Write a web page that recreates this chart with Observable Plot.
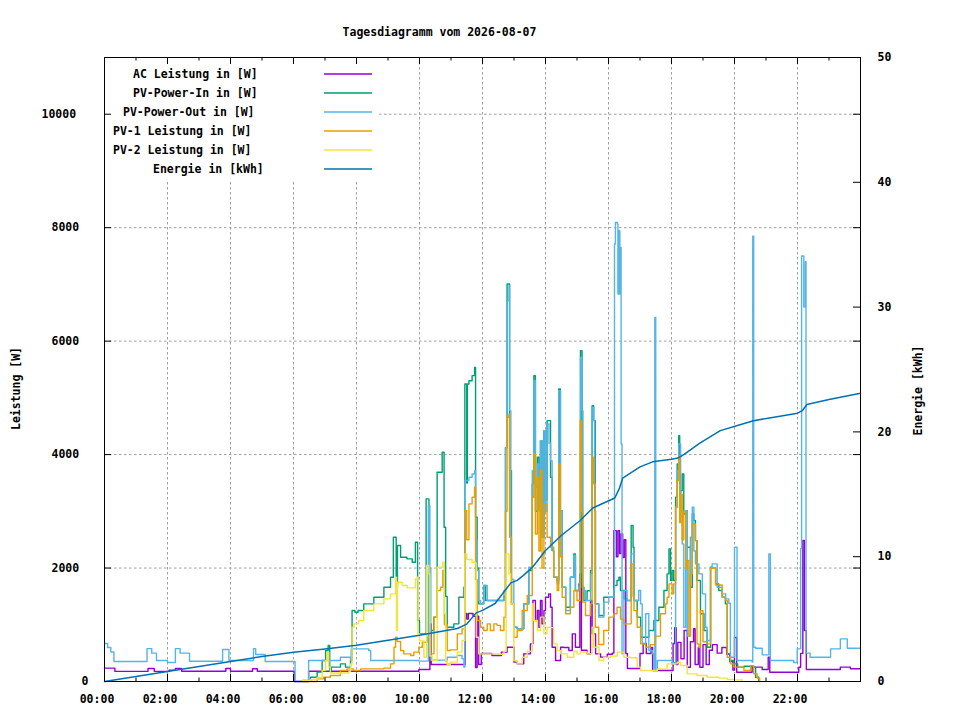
<!DOCTYPE html>
<html><head><meta charset="utf-8">
<script src="https://cdn.jsdelivr.net/npm/d3@7"></script>
<script src="https://cdn.jsdelivr.net/npm/@observablehq/plot@0.6"></script>
<style>body{margin:0;background:#fff}svg{display:block}</style>
</head><body><div id="chart"></div>
<script>
// ---- data: [hour, value] ----
const acLeistung = [[0,235],[0.33,178],[1.38,228],[1.58,178],[2.05,200],[2.25,230],[2.45,180],[3.85,230],[4.0,180],[4.7,225],[4.85,180],[6.03,0],[6.48,182],[9.98,211],[10.33,1016],[10.37,300],[11.45,1200],[11.5,1100],[11.55,1200],[11.7,1150],[11.78,247],[11.83,1150],[11.88,300],[11.96,493],[12.3,458],[12.6,517],[12.78,605],[13.0,341],[13.1,311],[13.31,487],[13.52,664],[13.6,1427],[13.68,1075],[13.74,1251],[13.79,957],[13.84,1427],[13.89,1016],[13.95,1250],[14.0,1486],[14.1,1545],[14.16,1310],[14.21,605],[14.32,370],[14.48,605],[14.58,600],[14.74,546],[14.85,840],[14.95,605],[15.09,1897],[15.14,550],[15.32,487],[15.43,1427],[15.48,840],[15.59,487],[15.75,429],[15.96,480],[16.12,500],[16.17,2660],[16.25,2200],[16.3,2660],[16.35,2255],[16.4,2600],[16.45,2185],[16.5,2500],[16.55,493],[16.6,229],[17.0,493],[17.1,670],[17.2,493],[17.35,600],[17.4,194],[18.05,670],[18.1,950],[18.15,300],[18.2,690],[18.3,400],[18.4,900],[18.5,250],[18.6,700],[18.7,930],[18.75,300],[18.85,600],[18.9,250],[19.0,650],[19.1,300],[19.2,550],[19.3,650],[19.45,500],[19.6,600],[19.75,480],[19.85,350],[19.95,200],[20.0,775],[20.07,164],[20.56,253],[20.88,211],[21.07,428],[21.12,164],[22.04,250],[22.1,495],[22.17,2485],[22.22,900],[22.28,211],[23.36,253],[23.68,226],[24,226]];

const pvPowerIn = [[6.28,18],[6.54,76],[6.75,165],[6.91,370],[7.02,546],[7.1,634],[7.15,194],[7.2,253],[7.49,311],[7.65,253],[7.81,370],[7.86,1251],[7.95,1222],[8.05,1251],[8.23,1369],[8.55,1486],[8.87,1662],[9.08,1838],[9.17,2543],[9.26,1662],[9.3,2397],[9.4,2191],[9.6,2162],[9.77,2103],[9.87,2455],[9.94,1075],[10.0,840],[10.21,3219],[10.3,899],[10.45,1134],[10.56,3688],[10.72,4040],[10.78,2719],[10.83,1500],[10.88,957],[11.09,1016],[11.25,1486],[11.41,1662],[11.44,5245],[11.5,3500],[11.52,5245],[11.57,5303],[11.67,5392],[11.75,5538],[11.78,2895],[11.83,2000],[11.88,1369],[12.04,1692],[12.1,1427],[12.68,1500],[12.73,4123],[12.78,7007],[12.86,3718],[12.92,1369],[12.995,957],[13.1,928],[13.31,1369],[13.47,1956],[13.58,3483],[13.63,5392],[13.68,3000],[13.74,3953],[13.79,3013],[13.84,4246],[13.89,2543],[13.95,4423],[14.0,3200],[14.05,4599],[14.16,3600],[14.21,2308],[14.26,1838],[14.37,1780],[14.42,5157],[14.47,3013],[14.53,1662],[14.64,1310],[14.79,1838],[14.9,2250],[14.95,1604],[15.06,1721],[15.11,5832],[15.16,1662],[15.22,1427],[15.32,1600],[15.43,1956],[15.48,4863],[15.53,4599],[15.58,1369],[15.69,1163],[15.85,1486],[16.01,1486],[16.17,1692],[16.27,1780],[16.33,1838],[16.38,1604],[16.49,1457],[16.59,1427],[16.72,2749],[16.78,2367],[16.81,1427],[16.91,1134],[17.02,781],[17.12,781],[17.28,899],[17.44,1075],[17.6,1310],[17.76,1604],[17.86,1897],[17.92,2338],[17.97,1780],[18.02,1956],[18.07,1780],[18.13,3248],[18.18,3835],[18.23,4335],[18.26,3000],[18.29,3365],[18.34,3659],[18.39,2954],[18.45,3013],[18.5,2367],[18.6,1662],[18.66,2954],[18.71,2837],[18.76,2484],[18.81,1780],[18.92,1193],[19.03,899],[19.13,605],[19.24,2015],[19.29,1997],[19.4,1721],[19.5,1604],[19.61,1486],[19.71,1369],[19.77,487],[19.87,370],[19.98,311],[20.1,253],[20.3,270],[20.56,253],[20.67,76],[20.77,0]];

const pvPowerOut = [[0,670],[0.1,600],[0.2,520],[0.3,352],[1.3,352],[1.35,580],[1.5,500],[1.65,370],[2.0,335],[2.25,580],[2.4,500],[2.7,357],[3.75,564],[3.95,370],[4.73,580],[4.8,475],[5.1,352],[6.05,0],[6.48,370],[7.49,428],[7.81,380],[7.83,575],[8.39,546],[8.45,370],[9.98,360],[10.24,360],[10.28,3100],[10.33,2000],[10.36,376],[10.83,360],[10.88,428],[11.2,458],[11.35,399],[11.41,253],[11.44,3542],[11.57,3600],[11.67,3659],[11.75,3718],[11.78,2500],[11.83,1956],[11.88,1427],[11.94,1369],[12.04,1692],[12.15,1427],[12.68,1604],[12.73,4123],[12.78,6713],[12.84,6978],[12.86,4775],[12.9,1800],[12.995,957],[13.1,928],[13.31,1369],[13.47,2015],[13.58,3718],[13.63,5303],[13.68,3424],[13.74,3835],[13.79,3013],[13.84,4246],[13.89,2543],[13.95,4423],[14.0,3000],[14.05,4540],[14.11,4200],[14.16,3894],[14.21,2308],[14.26,1838],[14.37,1721],[14.42,5127],[14.48,3013],[14.53,1662],[14.64,1251],[14.79,1838],[14.9,2220],[14.95,1600],[15.06,1662],[15.11,5714],[15.15,4775],[15.19,1604],[15.27,1427],[15.43,1897],[15.48,4833],[15.53,4599],[15.56,3000],[15.59,1369],[15.69,1134],[15.85,1400],[16.01,1486],[16.17,1604],[16.19,7712],[16.22,8093],[16.28,8064],[16.3,6831],[16.33,7947],[16.36,6831],[16.38,7653],[16.4,4188],[16.43,487],[16.49,1604],[16.59,1427],[16.72,2250],[16.81,1427],[16.96,1604],[17.02,1369],[17.07,664],[17.18,1193],[17.28,546],[17.39,487],[17.44,194],[17.47,6419],[17.5,194],[17.55,370],[18.02,330],[18.1,311],[18.13,3072],[18.18,3718],[18.23,4188],[18.29,3000],[18.34,2426],[18.39,957],[18.45,3013],[18.5,800],[18.6,2543],[18.66,3072],[18.71,2300],[18.76,2073],[18.87,1897],[18.98,1545],[19.08,957],[19.13,722],[19.24,2015],[19.29,2073],[19.45,1662],[19.61,1545],[19.72,1457],[19.82,1380],[19.87,428],[19.98,428],[20.0,2367],[20.08,370],[20.56,345],[20.58,7850],[20.61,605],[20.67,587],[20.88,470],[21.09,2250],[21.14,370],[21.88,335],[21.99,576],[22.1,2343],[22.13,7500],[22.2,6600],[22.25,7400],[22.27,500],[22.4,428],[23.05,576],[23.36,752],[23.58,587],[24,587]];

const pv1Leistung = [[6.28,0],[6.75,47],[6.96,76],[7.17,106],[7.49,194],[7.7,223],[7.9,194],[8.13,223],[8.55,223],[8.87,235],[9.08,311],[9.19,605],[9.24,781],[9.29,705],[9.4,546],[9.5,487],[9.72,458],[9.82,517],[9.98,605],[10.09,693],[10.24,781],[10.35,487],[10.46,1134],[10.56,1604],[10.67,1662],[10.74,1956],[10.79,1000],[10.88,546],[10.98,558],[11.2,840],[11.35,928],[11.44,3013],[11.5,2500],[11.57,3131],[11.67,3248],[11.75,3424],[11.78,1800],[11.83,1075],[11.94,957],[12.04,899],[12.15,1016],[12.25,899],[12.36,1016],[12.46,990],[12.57,899],[12.68,1134],[12.73,3000],[12.78,4657],[12.84,4716],[12.86,2543],[12.92,1369],[12.995,781],[13.1,899],[13.26,1251],[13.42,1515],[13.58,3248],[13.63,4012],[13.68,2600],[13.74,3600],[13.79,2300],[13.84,3718],[13.89,2000],[13.95,3131],[14.05,2543],[14.16,2367],[14.26,1838],[14.37,1604],[14.42,3835],[14.47,2200],[14.53,1486],[14.64,1193],[14.79,1310],[14.9,1604],[15.0,1427],[15.1,4599],[15.14,3000],[15.18,1400],[15.27,1163],[15.43,1369],[15.48,3953],[15.53,3483],[15.58,957],[15.69,652],[15.85,899],[16.01,1134],[16.17,1193],[16.27,1310],[16.33,1310],[16.38,1100],[16.49,1016],[16.59,1016],[16.72,2073],[16.78,1500],[16.81,1250],[16.91,957],[17.02,664],[17.18,605],[17.33,650],[17.49,800],[17.65,1193],[17.81,1369],[17.86,1486],[17.92,1721],[18.02,1545],[18.07,1721],[18.13,3072],[18.18,3542],[18.23,3982],[18.26,2800],[18.29,3300],[18.34,2500],[18.39,3000],[18.45,2000],[18.5,2132],[18.55,800],[18.6,1900],[18.66,2778],[18.76,2484],[18.81,664],[18.87,600],[18.92,1250],[19.0,700],[19.13,664],[19.24,1997],[19.4,1700],[19.61,1486],[19.71,1428],[19.77,428],[19.87,311],[19.98,253],[20.3,194],[20.51,280],[20.61,135],[20.72,60],[20.8,0]];

const pv2Leistung = [[6.28,18],[6.54,35],[6.75,70],[6.91,194],[7.02,370],[7.07,517],[7.12,253],[7.17,150],[7.76,180],[7.81,311],[7.86,957],[7.92,1016],[8.07,1075],[8.23,1251],[8.55,1369],[8.87,1457],[9.08,1545],[9.24,1838],[9.27,899],[9.3,1750],[9.45,1692],[9.61,1650],[9.77,1650],[9.87,1809],[9.93,1838],[9.95,840],[10.0,717],[10.14,428],[10.22,2044],[10.3,1900],[10.33,450],[10.4,370],[10.51,370],[10.56,2015],[10.67,2015],[10.74,2103],[10.79,1200],[10.83,370],[10.88,300],[10.98,341],[11.2,517],[11.35,722],[11.44,2250],[11.5,2150],[11.62,2150],[11.67,2103],[11.78,2080],[11.8,781],[11.88,487],[12.57,480],[12.68,534],[12.75,2250],[12.84,1900],[12.89,1369],[12.995,370],[13.1,311],[13.26,428],[13.42,534],[13.58,1369],[13.63,1075],[13.74,899],[13.84,1134],[13.95,840],[14.05,957],[14.16,950],[14.26,664],[14.37,546],[14.48,487],[14.69,428],[14.9,534],[15.0,487],[15.11,520],[15.32,487],[15.48,957],[15.53,605],[15.7,370],[15.85,428],[16.07,450],[16.28,517],[16.49,428],[16.7,420],[16.91,253],[17.02,194],[17.44,194],[17.55,223],[17.86,311],[18.18,340],[18.29,282],[18.5,135],[18.81,106],[19.13,76],[19.5,60],[19.77,35],[20.0,29],[20.25,0]];

const energieKWh = [[0,0],[1,0.4],[2,0.8],[3,1.2],[4,1.6],[5,2.0],[6,2.35],[7,2.6],[8,2.9],[9,3.3],[10,3.7],[11.2,4.25],[11.5,4.6],[11.8,5.5],[12.0,5.7],[12.4,6.25],[12.9,7.9],[13.1,8.1],[13.3,8.5],[13.6,9.2],[14.0,10.5],[14.5,11.7],[15.1,12.9],[15.5,13.9],[16.2,14.7],[16.35,15.5],[16.45,16.3],[17.0,17.2],[17.4,17.6],[18.0,17.8],[18.2,17.9],[18.4,18.2],[18.9,19.1],[19.55,20.1],[20.2,20.6],[20.6,20.9],[21.3,21.2],[22.0,21.5],[22.15,21.7],[22.3,22.2],[23.0,22.6],[24,23.1]];

const legendLabels = ["AC Leistung in [W]","PV-Power-In in [W]","PV-Power-Out in [W]","PV-1 Leistung in [W]","PV-2 Leistung in [W]","Energie in [kWh]"];
const seriesColors = ["#9400d3","#009e73","#56b4e9","#e69f00","#f0e442","#0072b2"];
const titleText = "Tagesdiagramm vom 2026-08-07";
const yLabel = "Leistung [W]";
const y2Label = "Energie [kWh]";
const majorHours = [0,2,4,6,8,10,12,14,16,18,20,22,24];
const minorHours = [1,3,5,7,9,11,13,15,17,19,21,23];
const hourLabels = [0,2,4,6,8,10,12,14,16,18,20,22];
const powerTicks = [0,2000,4000,6000,8000,10000];
const energyTicks = [0,10,20,30,40,50];

// ---- layout ----
const W = 960, H = 720, mL = 104, mR = 100, mT = 57, mB = 39;
const pw = W - mL - mR, ph = H - mT - mB;
const K = 11000 / 50; // W per kWh for the secondary axis
const FONT = "DejaVu Sans Mono";

const toRows = arr => arr.map(([h, v]) => ({h, v}));

function legendMark() {
  const g = d3.create("svg:g");
  g.append("rect").attr("x", mL + 0.5).attr("y", mT + 0.5).attr("width", 274).attr("height", 124).attr("fill", "white");
  legendLabels.forEach((lab, i) => {
    const yy = mT + 17 + i * 19;
    g.append("text").attr("x", 313 - 10 * lab.length).attr("y", yy + 3.5)
      .attr("text-anchor", "start")
      .attr("font-family", FONT).attr("font-size", "11.5px").attr("font-weight", "bold").attr("fill", "black").text(lab);
    g.append("line").attr("x1", 324).attr("x2", 372).attr("y1", yy).attr("y2", yy)
      .attr("stroke", seriesColors[i]).attr("stroke-width", 1.5);
  });
  return g.node();
}

const lineOpts = (c) => ({x: "h", y: "v", stroke: c, strokeWidth: 1.4, curve: "step-after"});
const fmtHour = h => String(h).padStart(2, "0") + ":00";
const gridStyle = {stroke: "#a0a0a0", strokeOpacity: 1, strokeWidth: 1, strokeDasharray: "2.5,2.5"};

const chart = Plot.plot({
  width: W, height: H,
  marginLeft: mL, marginRight: mR, marginTop: mT, marginBottom: mB,
  x: {domain: [0, 24]},
  y: {domain: [0, 11000]},
  style: {fontFamily: FONT, fontSize: "11.5px", fontWeight: "bold", background: "white", color: "black", overflow: "visible"},
  marks: [
    Plot.gridX(majorHours, gridStyle),
    Plot.gridY(powerTicks.slice(1), gridStyle),
    legendMark,
    Plot.line(toRows(acLeistung), lineOpts(seriesColors[0])),
    Plot.line(toRows(pvPowerIn), lineOpts(seriesColors[1])),
    Plot.line(toRows(pvPowerOut), lineOpts(seriesColors[2])),
    Plot.line(toRows(pv1Leistung), lineOpts(seriesColors[3])),
    Plot.line(toRows(pv2Leistung), lineOpts(seriesColors[4])),
    Plot.line(toRows(energieKWh), {x: "h", y: d => d.v * K, stroke: seriesColors[5], strokeWidth: 1.5, curve: "linear"}),
    Plot.frame({stroke: "black", strokeWidth: 1}),
    Plot.tickX(majorHours, {x: d => d, insetTop: ph - 7, stroke: "black"}),
    Plot.tickX(majorHours, {x: d => d, insetBottom: ph - 7, stroke: "black"}),
    Plot.tickX(minorHours, {x: d => d, insetTop: ph - 3.5, stroke: "black"}),
    Plot.tickX(minorHours, {x: d => d, insetBottom: ph - 3.5, stroke: "black"}),
    Plot.tickY(powerTicks, {y: d => d, insetRight: pw - 7, stroke: "black"}),
    Plot.tickY(powerTicks, {y: d => d, insetLeft: pw - 7, stroke: "black"}),
    Plot.tickY(energyTicks, {y: d => d * K, insetLeft: pw - 7, stroke: "black"}),
    Plot.axisX({ticks: hourLabels, tickSize: 0, tickPadding: 13, tickFormat: fmtHour, dx: -7.5, label: null}),
    Plot.axisY({ticks: powerTicks.filter(t => String(t).length === 1), tickFormat: d => String(d), tickSize: 0, tickPadding: 16, label: null}),
    Plot.axisY({ticks: powerTicks.filter(t => String(t).length === 4), tickFormat: d => String(d), tickSize: 0, tickPadding: 25.3, label: null}),
    Plot.axisY({ticks: powerTicks.filter(t => String(t).length === 5), tickFormat: d => String(d), tickSize: 0, tickPadding: 28.4, label: null}),
    Plot.axisY({anchor: "right", ticks: energyTicks.map(e => e * K), tickFormat: d => String(Math.round(d / K)), tickSize: 0, tickPadding: 17, label: null}),
    Plot.text([titleText], {frameAnchor: "top", textAnchor: "middle", dx: -43, dy: -30, fill: "black"}),
    Plot.text([yLabel], {frameAnchor: "left", textAnchor: "middle", dx: -88, dy: 19, rotate: -90, fill: "black"}),
    Plot.text([y2Label], {frameAnchor: "right", textAnchor: "middle", dx: 58, dy: 21, rotate: -90, fill: "black"})
  ]
});
document.getElementById("chart").appendChild(chart);
</script>
</body></html>
